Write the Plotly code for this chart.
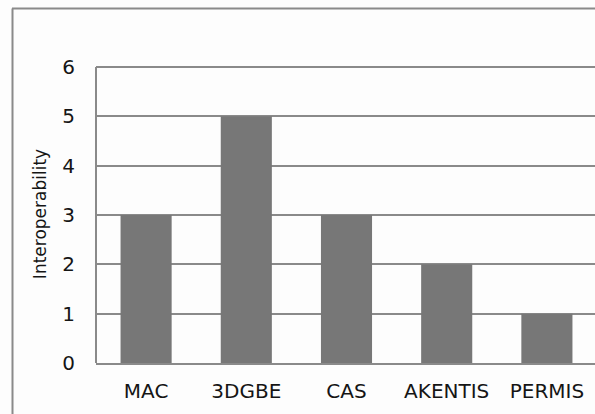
import plotly.graph_objects as go

# Interoperability score per system
systems = ["MAC", "3DGBE", "CAS", "AKENTIS", "PERMIS"]
interoperability = [3, 5, 3, 2, 1]
y_ticks = [0, 1, 2, 3, 4, 5, 6]

W, H = 595, 414
ML, MR, MT, MB = 96, 0, 65, 51

fig = go.Figure(
    go.Bar(
        x=systems,
        y=interoperability,
        marker=dict(color="#777777", line=dict(width=0)),
        width=0.51,
        hoverinfo="skip",
    )
)

# outer chart frame: only its top and left edges fall inside the page
px = lambda x: (x - ML) / (W - ML - MR)
py = lambda y: (H - MB - y) / (H - MT - MB)
frame = dict(color="#8a8a8a", width=2)
fig.add_shape(type="line", xref="paper", yref="paper",
              x0=px(12), x1=px(700), y0=py(8.5), y1=py(8.5), line=frame)
fig.add_shape(type="line", xref="paper", yref="paper",
              x0=px(12.5), x1=px(12.5), y0=py(8.5), y1=py(500), line=frame)
# left axis line stops at the top gridline
fig.add_shape(type="line", xref="paper", yref="y",
              x0=0, x1=0, y0=0, y1=6, line=dict(color="#8a8a8a", width=2))

txt = "#151515"
font = dict(family="DejaVu Sans, sans-serif", size=20, color=txt)

fig.update_layout(
    width=W,
    height=H,
    margin=dict(l=ML, r=MR, t=MT, b=MB, pad=0),
    paper_bgcolor="#fdfdfd",
    plot_bgcolor="#fdfdfd",
    showlegend=False,
    font=font,
    xaxis=dict(
        range=[-0.5, 4.48],
        showgrid=False,
        showline=True,
        linecolor="#8a8a8a",
        linewidth=2,
        ticks="",
        ticklabelstandoff=9,
        tickfont=dict(size=20, color=txt),
        fixedrange=True,
    ),
    yaxis=dict(
        range=[0, 6.04],
        tickvals=y_ticks,
        showgrid=True,
        gridcolor="#8a8a8a",
        gridwidth=2,
        zeroline=False,
        showline=False,
        ticks="",
        ticklabelstandoff=20,
        tickfont=dict(size=20, color=txt),
        title=dict(text="Interoperability", standoff=11,
                   font=dict(size=17, color=txt)),
        fixedrange=True,
    ),
)

fig.write_html("out.html")
